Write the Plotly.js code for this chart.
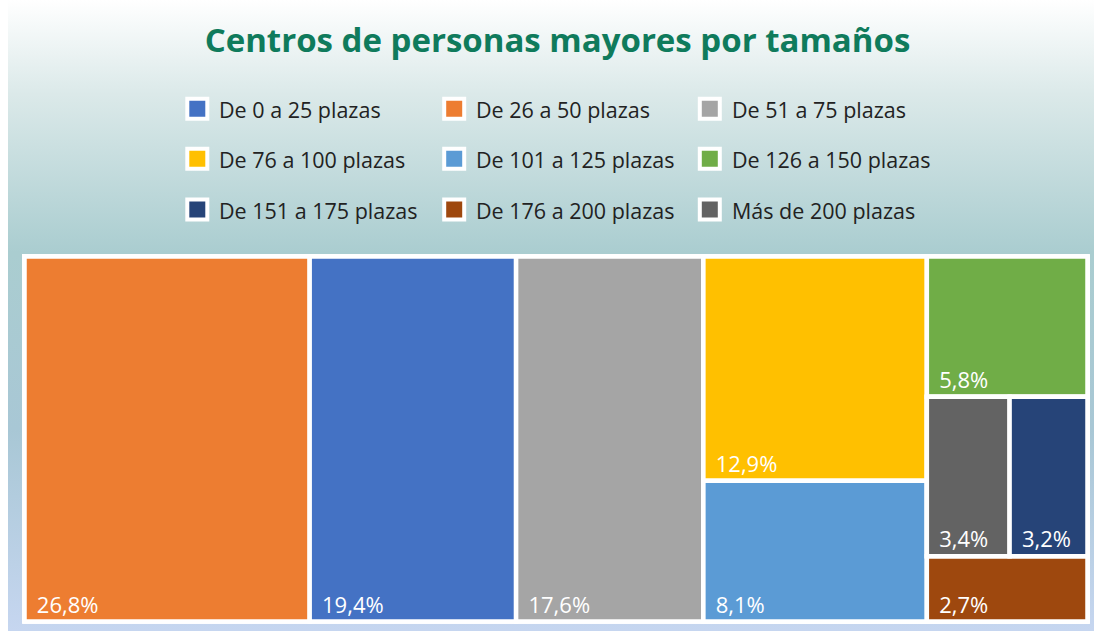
<!DOCTYPE html>
<html><head><meta charset="utf-8">
<script src="https://cdn.plot.ly/plotly-3.0.1.min.js"></script>
<style>
html,body{margin:0;padding:0;background:#ffffff;}
#wrap{position:relative;width:1094px;height:631px;overflow:hidden;}
#bg{position:absolute;left:8px;top:0;width:1086px;height:631px;
background:linear-gradient(to bottom,#ffffff 0%,#dbe9e9 15%,#aacdd0 40%,#a8c7d5 68%,#c6d6f0 100%);}
#chart{position:absolute;left:0;top:0;width:1094px;height:631px;}
</style></head><body>
<div id="wrap"><div id="bg"></div><div id="chart"></div></div>
<script>
// ---- data ----
const categories = ['De 0 a 25 plazas','De 26 a 50 plazas','De 51 a 75 plazas',
  'De 76 a 100 plazas','De 101 a 125 plazas','De 126 a 150 plazas',
  'De 151 a 175 plazas','De 176 a 200 plazas','Más de 200 plazas'];
const shares = [19.4, 26.8, 17.6, 12.9, 8.1, 5.8, 3.2, 2.7, 3.4];
const colors = ['#4472C4','#ED7D31','#A5A5A5','#FFC000','#5B9BD5','#70AD47','#264478','#9E480E','#636363'];
// tile arrangement of the original (columns, then rows, then side by side)
const columnGroups = [
  ['De 26 a 50 plazas'],
  ['De 0 a 25 plazas'],
  ['De 51 a 75 plazas'],
  ['De 76 a 100 plazas','De 101 a 125 plazas'],
  ['De 126 a 150 plazas',['Más de 200 plazas','De 151 a 175 plazas'],'De 176 a 200 plazas']
];

// ---- build hierarchy ----
const ids=[], labels=[], parents=[], values=[], mcolors=[], texts=[];
const fmt = v => v.toFixed(1).replace('.', ',') + '%';
function addLeaf(name, parent){
  const i = categories.indexOf(name);
  ids.push(name); labels.push(name); parents.push(parent);
  values.push(shares[i]); mcolors.push(colors[i]);
  texts.push('\u00a0\u2009' + fmt(shares[i]));
}
let gid = 0;
function addGroup(items, parent){
  const id = 'grupo' + (gid++);
  ids.push(id); labels.push(''); parents.push(parent);
  values.push(0); mcolors.push('#ffffff'); texts.push('');
  items.forEach(it => Array.isArray(it) ? addGroup(it, id) : addLeaf(it, id));
}
ids.push('Total'); labels.push(''); parents.push(''); values.push(0); mcolors.push('#ffffff'); texts.push('');
columnGroups.forEach(g => g.length === 1 && !Array.isArray(g[0]) ? addLeaf(g[0], 'Total') : addGroup(g, 'Total'));

const W = 1094, H = 631;
const px = x => x / W, py = y => 1 - y / H;

const trace = {
  type: 'treemap', ids, labels, parents, values, text: texts,
  branchvalues: 'remainder', sort: false,
  texttemplate: '%{text}', textposition: 'bottom left',
  textfont: {family: 'Open Sans', size: 22, color: '#ffffff'},
  insidetextfont: {family: 'Open Sans', size: 22, color: '#ffffff'},
  hoverinfo: 'skip',
  marker: {colors: mcolors, line: {color: '#ffffff', width: 4.5}, pad: {t: 0, l: 0, r: 0, b: 0}, depthfade: false},
  tiling: {packing: 'slice-dice', pad: 0},
  pathbar: {visible: false},
  domain: {x: [px(24.5), px(1087.5)], y: [py(621.5), py(256.5)]}
};

// ---- legend (3 x 3 grid) ----
const shapes = [{type: 'rect', xref: 'paper', yref: 'paper', layer: 'below',
  x0: px(22), x1: px(1089.3), y0: py(623.3), y1: py(254), fillcolor: '#ffffff', line: {width: 0}}];
const annotations = [];
const colX = [197.3, 454.2, 709.8], rowY = [108.7, 158.7, 209.5];
categories.forEach((c, i) => {
  const cx = colX[i % 3], cy = rowY[Math.floor(i / 3)];
  shapes.push({type: 'rect', xref: 'paper', yref: 'paper', layer: 'above',
    x0: px(cx - 10), x1: px(cx + 10), y0: py(cy + 10), y1: py(cy - 10),
    fillcolor: colors[i], line: {color: '#ffffff', width: 4}});
  annotations.push({xref: 'paper', yref: 'paper', x: px(cx + 20), y: py(cy + 1),
    xanchor: 'left', yanchor: 'middle', showarrow: false, text: c,
    font: {family: 'Open Sans', size: 21.5, color: '#222222'}});
});

const layout = {
  width: W, height: H, margin: {l: 0, r: 0, t: 0, b: 0},
  paper_bgcolor: 'rgba(0,0,0,0)', plot_bgcolor: 'rgba(0,0,0,0)',
  title: {text: 'Centros de personas mayores por tamaños', xref: 'paper', yref: 'paper',
    x: px(557.5), xanchor: 'center', y: py(40), yanchor: 'middle',
    font: {family: 'Open Sans', size: 33, color: '#0f7b5c', weight: 700}},
  shapes, annotations, showlegend: false
};
Plotly.newPlot('chart', [trace], layout, {displayModeBar: false, staticPlot: true});
</script></body></html>
